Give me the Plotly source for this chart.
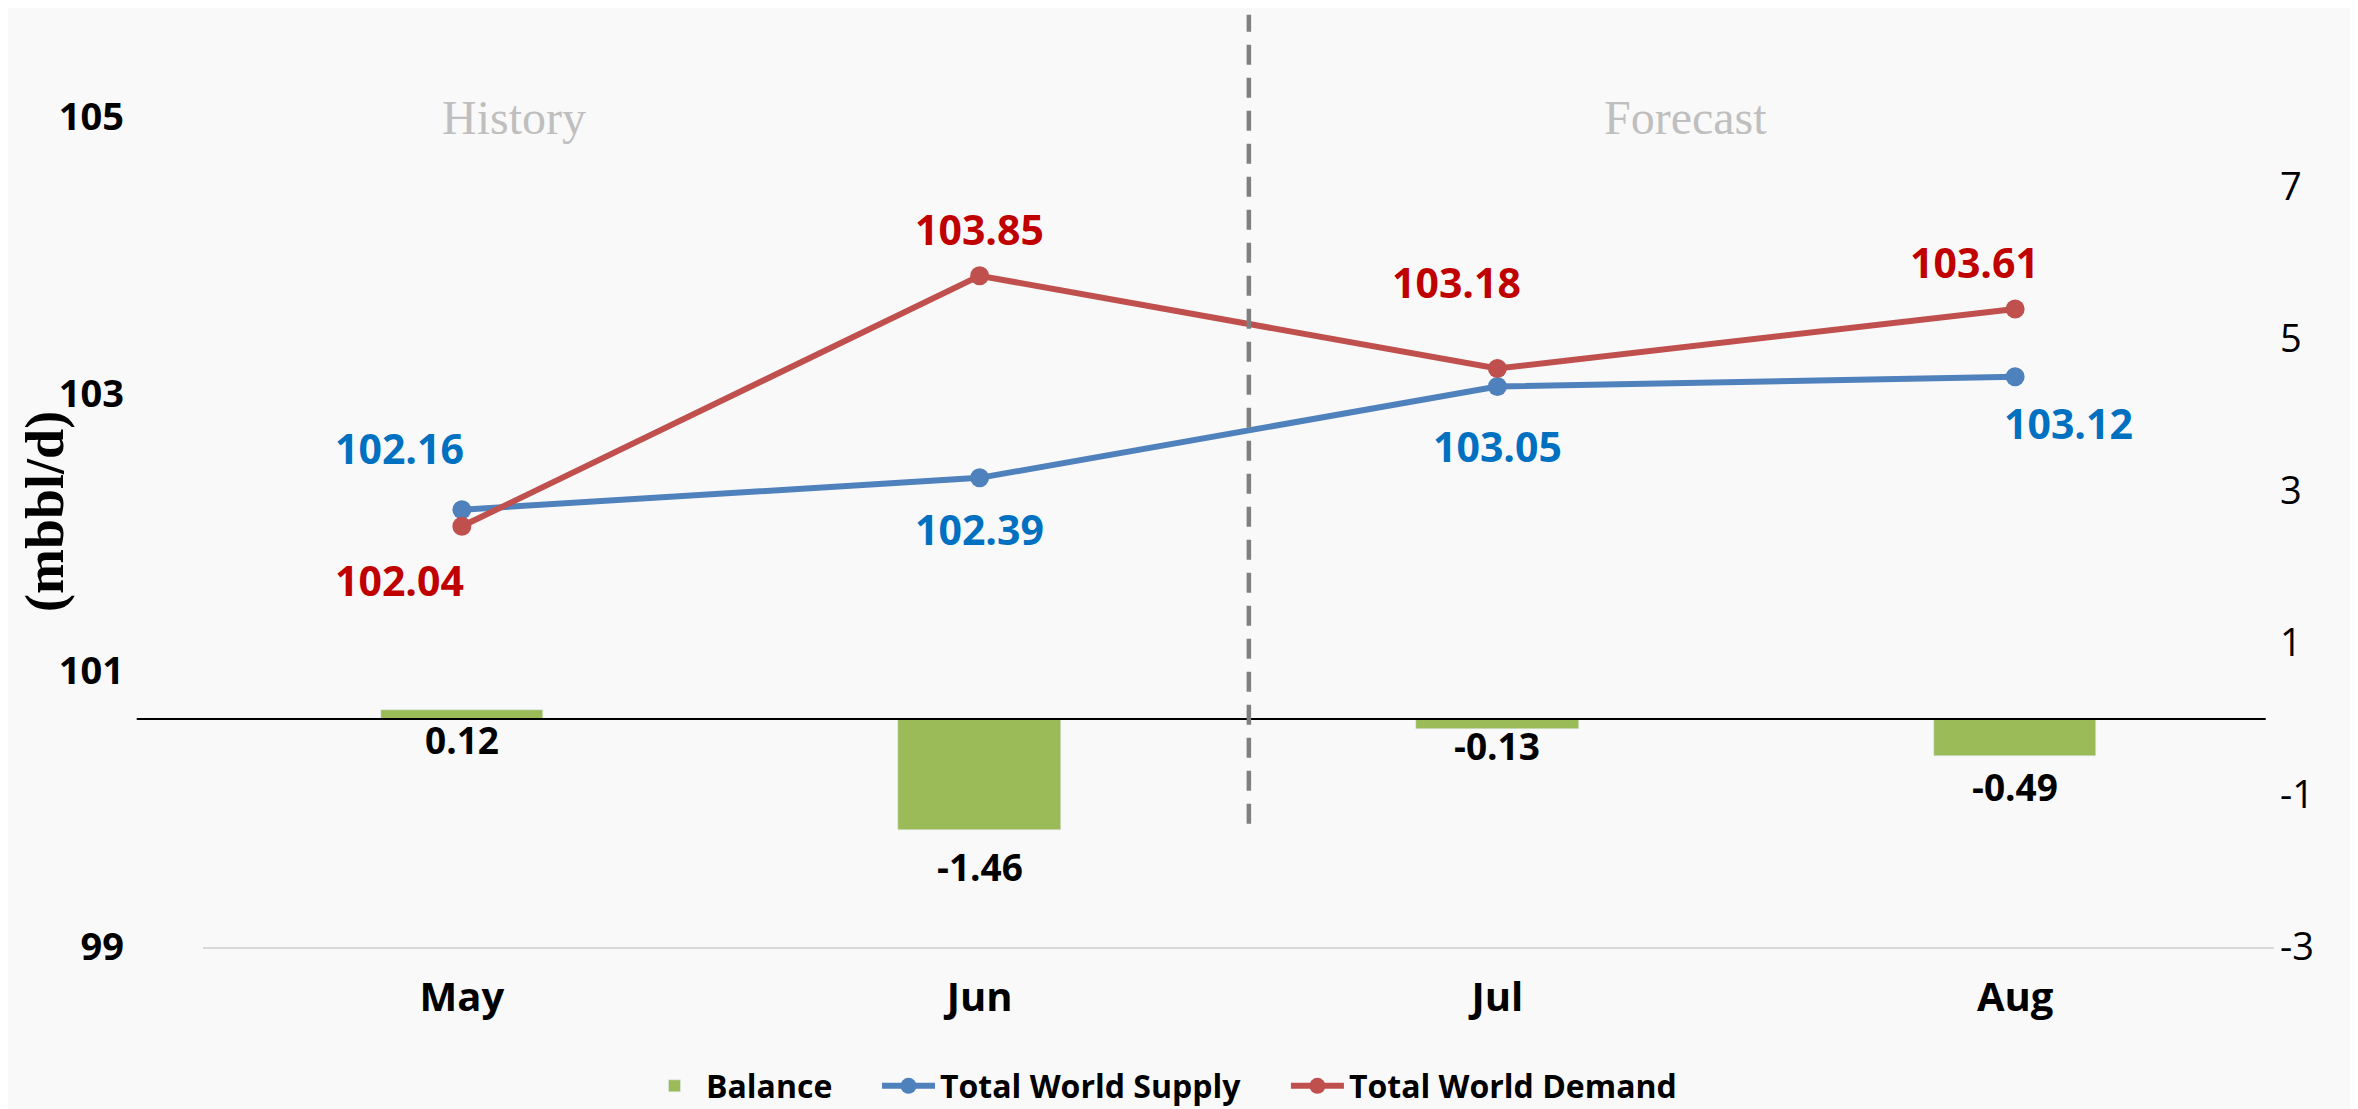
import plotly.graph_objects as go

months = ["May", "Jun", "Jul", "Aug"]
balance = [0.12, -1.46, -0.13, -0.49]
supply = [102.16, 102.39, 103.05, 103.12]
demand = [102.04, 103.85, 103.18, 103.61]
left_ticks = [99, 101, 103, 105]
right_ticks = [-3, -1, 1, 3, 5, 7]
right_ticktext = ["-3", "-1", "1", "3", "5", "7"]

# label offsets (pixels) - styling only
supply_off = [(-62, 62), (0, -51), (0, -59), (53, -46)]
demand_off = [(-62, -54), (0, 47), (-41, 87), (-41, 47)]
bal_off = [-21, -37, -17, -30]

BAR = "#9BBB59"
SUP = "#4F81BD"
DEM = "#C0504D"
SUPL = "#0070C0"
DEML = "#C00000"
FONT = "Open Sans"

fig = go.Figure()
fig.add_trace(go.Bar(x=months, y=balance, name="Balance", marker_color=BAR,
                     width=0.314, yaxis="y", legend="legend"))
fig.add_trace(go.Scatter(x=months, y=supply, name="Total World Supply", mode="lines+markers",
                         line=dict(color=SUP, width=6), marker=dict(size=19, color=SUP),
                         yaxis="y2", legend="legend2"))
fig.add_trace(go.Scatter(x=months, y=demand, name="Total World Demand", mode="lines+markers",
                         line=dict(color=DEM, width=6), marker=dict(size=19, color=DEM),
                         yaxis="y2", legend="legend3"))

ann = []
for i, m in enumerate(months):
    dx, dy = supply_off[i]
    ann.append(dict(x=m, y=supply[i], xref="x", yref="y2", text=f"{supply[i]:.2f}",
                    showarrow=False, xshift=dx, yshift=dy,
                    font=dict(family=FONT, size=41, color=SUPL, weight="bold")))
    dx, dy = demand_off[i]
    ann.append(dict(x=m, y=demand[i], xref="x", yref="y2", text=f"{demand[i]:.2f}",
                    showarrow=False, xshift=dx, yshift=dy,
                    font=dict(family=FONT, size=41, color=DEML, weight="bold")))
    ann.append(dict(x=m, y=min(balance[i], 0), xref="x", yref="y", text=f"{balance[i]:.2f}",
                    showarrow=False, yshift=bal_off[i],
                    font=dict(family=FONT, size=37, color="black", weight="bold")))

ann.append(dict(x=0.150, y=0.909, xref="paper", yref="paper", text="History", showarrow=False,
                xanchor="center", yanchor="middle",
                font=dict(family="Liberation Serif", size=48, color="#BFBFBF")))
ann.append(dict(x=0.716, y=0.909, xref="paper", yref="paper", text="Forecast", showarrow=False,
                xanchor="center", yanchor="middle",
                font=dict(family="Liberation Serif", size=48, color="#BFBFBF")))
ann.append(dict(x=-0.0763, y=0.4776, xref="paper", yref="paper", text="(mbbl/d)", showarrow=False,
                textangle=-90, xanchor="center", yanchor="middle",
                font=dict(family="Liberation Serif", size=54, color="black", weight="bold")))

shapes = [
    dict(type="line", xref="paper", yref="y", x0=-0.032, x1=0.996, y0=0, y1=0,
         line=dict(color="black", width=2)),
    dict(type="line", xref="x", yref="paper", x0=1.52, x1=1.52, y0=0.135, y1=1.021,
         line=dict(color="#808080", width=4.5, dash="20px,13px")),
]

legfont = dict(family=FONT, size=32, color="black", weight="bold")
def leg(x):
    return dict(orientation="h", xref="container", yref="container", x=x, y=0.0209,
                xanchor="left", yanchor="middle", font=legfont,
                bgcolor="rgba(0,0,0,0)", itemwidth=53)

fig.update_layout(
    width=2350, height=1101,
    margin=dict(l=195, r=84, t=26, b=162),
    paper_bgcolor="#F9F9F9", plot_bgcolor="#F9F9F9",
    showlegend=True,
    legend=leg(0.2702), legend2=leg(0.3698), legend3=leg(0.5438),
    xaxis=dict(type="category", range=[-0.5, 3.5], showgrid=False, zeroline=False,
               showline=True, linecolor="#D9D9D9", linewidth=2,
               ticks="", ticklabelstandoff=14,
               tickfont=dict(family=FONT, size=40, color="black", weight="bold")),
    yaxis=dict(range=[-3, 9.01], side="right", tickvals=right_ticks, ticktext=right_ticktext,
               showgrid=False, zeroline=False, showline=False, ticks="", ticklabelstandoff=5,
               tickfont=dict(family=FONT, size=38, color="black")),
    yaxis2=dict(range=[99, 105.597], side="left", overlaying="y", tickvals=left_ticks,
                showgrid=False, zeroline=False, showline=False, ticks="",
                ticklabelstandoff=78,
                tickfont=dict(family=FONT, size=38, color="black", weight="bold")),
    annotations=ann, shapes=shapes, bargap=0,
)

fig.write_html("out.html")
